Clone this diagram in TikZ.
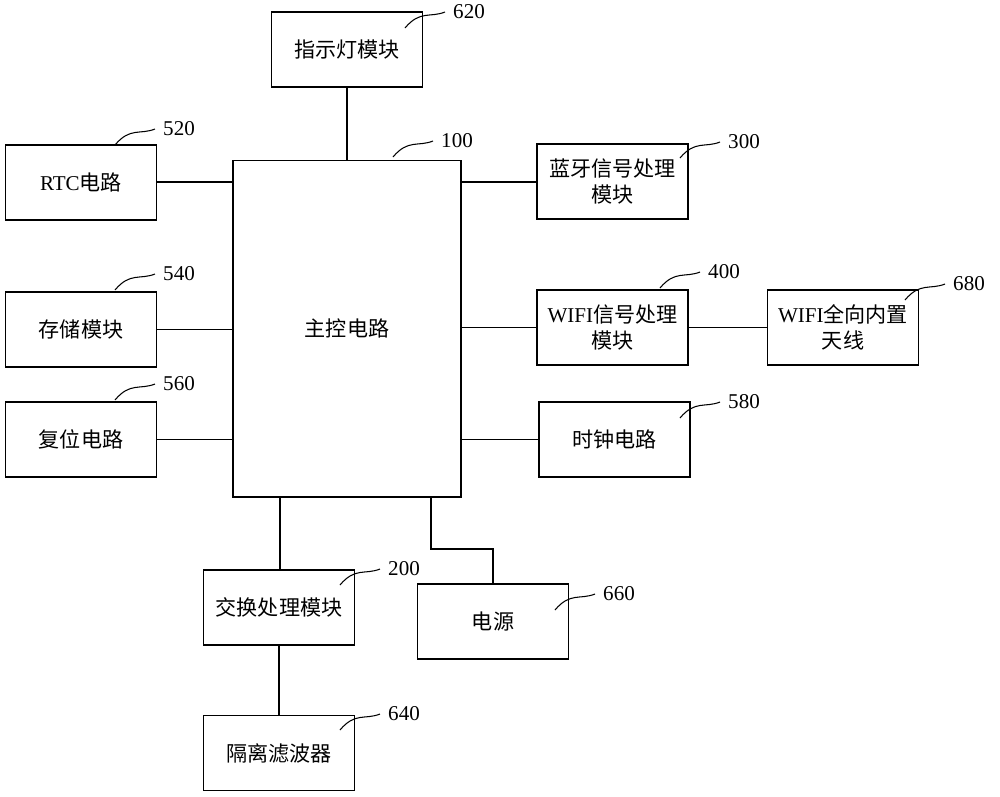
\documentclass[tikz,border=0pt]{standalone}
\usepackage{fontspec}
\setmainfont{Liberation Serif}
\newfontfamily\cjk{Noto Sans CJK SC}
\newcommand{\zh}[1]{{\cjk #1}}
\begin{document}
\begin{tikzpicture}[x=0.02cm,y=-0.02cm,
    blk/.style={draw,semithick,minimum width=3.02cm,minimum height=1.5cm,align=center,font=\fontsize{12}{15}\selectfont},
    lead/.style={semithick},
    num/.style={font=\fontsize{12}{14}\selectfont}]
    \useasboundingbox (0,0) rectangle (1000,796);
    % Define boxes
    \node[blk] (led) at (347,49.5) {\zh{指示灯模块}};
    \node[blk,minimum width=4.56cm,minimum height=6.74cm] (mcu) at (347,328.5) {\zh{主控电路}};
    \node[blk] (rtc) at (81,182.5) {RTC\zh{电路}};
    \node[blk] (mem) at (81,329.5) {\zh{存储模块}};
    \node[blk] (rst) at (81,439.5) {\zh{复位电路}};
    \node[blk] (bt) at (612.5,181.5) {\zh{蓝牙信号处理}\\\zh{模块}};
    \node[blk] (wifi) at (612.5,327.5) {WIFI\zh{信号处理}\\\zh{模块}};
    \node[blk] (ant) at (843,327.5) {WIFI\zh{全向内置}\\\zh{天线}};
    \node[blk] (clk) at (614.5,439.5) {\zh{时钟电路}};
    \node[blk] (sw) at (279,607.5) {\zh{交换处理模块}};
    \node[blk] (pwr) at (493,621.5) {\zh{电源}};
    \node[blk] (flt) at (279,753) {\zh{隔离滤波器}};
    % Connections
    \draw[semithick] (led) -- (mcu);
    \draw[semithick] (rtc.east |- 0,182) -- (mcu.west |- 0,182);
    \draw[semithick] (mem) -- (mcu.west |- mem);
    \draw[semithick] (rst) -- (mcu.west |- rst);
    \draw[semithick] (bt.west |- 0,182) -- (mcu.east |- 0,182);
    \draw[semithick] (wifi) -- (mcu.east |- wifi);
    \draw[semithick] (wifi) -- (ant);
    \draw[semithick] (clk) -- (mcu.east |- clk);
    \draw[semithick] (sw.north -| 280,0) -- (mcu.south -| 280,0);
    \draw[semithick] (mcu.south -| 431,0) |- (493,549) -- (pwr.north);
    \draw[semithick] (sw) -- (flt);
    % Reference numbers
    \foreach \a/\b/\t in {405/28/620, 393/157/100, 115/145/520, 680/158/300,
        115/290/540, 660/288/400, 905/300/680, 115/400/560, 680/418/580,
        340/585/200, 555/610/660, 340/730/640}{
        \draw[lead] (\a,\b) .. controls (\a+15,\b-18) and (\a+25,\b-10) .. (\a+40,\b-16);
        \node[num,anchor=west] at (\a+42,\b-16) {\t};
    }
\end{tikzpicture}
\end{document}
